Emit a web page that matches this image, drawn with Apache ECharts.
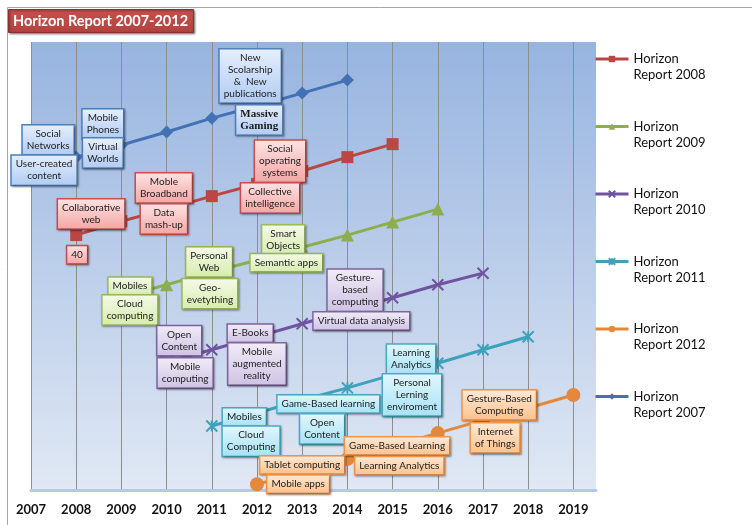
<!DOCTYPE html>
<html>
<head>
<meta charset="utf-8">
<title>Horizon Report 2007-2012</title>
<script src="https://cdn.jsdelivr.net/npm/echarts@6/dist/echarts.min.js"></script>
<style>
  html, body { margin: 0; padding: 0; background: #fff; }
  #chart { width: 752px; height: 525px; }
</style>
</head>
<body>
<div id="chart"></div>
<script>
// x axis ticks
const axisYears = [2007, 2008, 2009, 2010, 2011, 2012, 2013, 2014, 2015, 2016, 2017, 2018, 2019]

// one trend line per report (y is only a relative height, axis hidden)
const years2007 = [2007, 2008, 2009, 2010, 2011, 2012, 2013, 2014]
const values2007 = [71.4, 74.3, 77.0, 79.9, 83.0, 85.7, 88.6, 91.5]
const years2008 = [2008, 2009, 2010, 2011, 2012, 2013, 2014, 2015]
const values2008 = [56.9, 60.0, 62.7, 65.6, 68.3, 71.2, 74.3, 77.2]
const years2009 = [2009, 2010, 2011, 2012, 2013, 2014, 2015, 2016]
const values2009 = [43.1, 45.8, 48.7, 51.3, 54.2, 56.9, 59.8, 62.7]
const years2010 = [2010, 2011, 2012, 2013, 2014, 2015, 2016, 2017]
const values2010 = [28.6, 31.3, 34.2, 37.1, 40.0, 42.9, 45.8, 48.4]
const years2011 = [2011, 2012, 2013, 2014, 2015, 2016, 2017, 2018]
const values2011 = [14.3, 17.2, 20.1, 22.8, 25.7, 28.3, 31.3, 34.2]
const years2012 = [2012, 2013, 2014, 2015, 2016, 2017, 2018, 2019]
const values2012 = [1.3, 4.0, 6.9, 9.8, 12.7, 15.6, 18.3, 21.2]

// callout boxes: [text, year, height]
const notes2007 = [
  ['Social\nNetworks', 2007.38, 78.1],
  ['User-created\ncontent', 2007.29, 71.4],
  ['Mobile\nPhones', 2008.59, 81.7],
  ['Virtual\nWorlds', 2008.59, 75.2],
  ['New\nScolarship\n&  New\npublications', 2011.85, 92.4],
  ['Massive\nGaming', 2012.05, 82.6]
]
const notes2008 = [
  ['Collaborative\nweb', 2008.33, 61.6],
  ['40', 2008.02, 52.5],
  ['Moble\nBroadband', 2009.94, 67.4],
  ['Data\nmash-up', 2009.94, 60.5],
  ['Social\noperating\nsystems', 2012.51, 73.4],
  ['Collective\nintelligence', 2012.29, 65.2]
]
const notes2009 = [
  ['Mobiles', 2009.19, 45.5],
  ['Cloud\ncomputing', 2009.19, 40.2],
  ['Personal\nWeb', 2010.94, 50.9],
  ['Geo-\nevetything', 2010.96, 43.8],
  ['Smart\nObjects', 2012.58, 55.8],
  ['Semantic apps', 2012.65, 50.7]
]
const notes2010 = [
  ['Open\nContent', 2010.28, 33.3],
  ['Mobile\ncomputing', 2010.41, 26.1],
  ['E-Books', 2011.85, 35.0],
  ['Mobile\naugmented\nreality', 2012.0, 28.1],
  ['Gesture-\nbased\ncomputing', 2014.17, 44.6],
  ['Virtual data analysis', 2014.31, 37.7]
]
const notes2011 = [
  ['Mobiles', 2011.72, 16.3],
  ['Cloud\nComputing', 2011.87, 10.9],
  ['Game-Based learning', 2013.58, 19.2],
  ['Open\nContent', 2013.44, 13.6],
  ['Learning\nAnalytics', 2015.41, 29.2],
  ['Personal\nLerning\nenviroment', 2015.43, 21.2]
]
const notes2012 = [
  ['Tablet computing', 2013.0, 5.6],
  ['Mobile apps', 2012.91, 1.3],
  ['Game-Based Learning', 2015.1, 9.8],
  ['Learning Analytics', 2015.15, 5.4],
  ['Gesture-Based\nComputing', 2017.36, 19.0],
  ['Internet\nof Things', 2017.27, 11.6]
]

const xMark = 'path://M0,0L10,10M10,0L0,10'
const starMark = 'path://M0,0L10,10M10,0L0,10M5,0L5,10'

const reports = [
  { name: 'Horizon Report 2007', years: years2007, values: values2007, notes: notes2007,
    color: '#4272b4', symbol: 'diamond', size: 13, border: '#4f81bd', top: '#e6effc', bottom: '#b0cbf2' },
  { name: 'Horizon Report 2008', years: years2008, values: values2008, notes: notes2008,
    color: '#bb4744', symbol: 'rect', size: 12, border: '#c9504d', top: '#fde4e4', bottom: '#f4a5a3' },
  { name: 'Horizon Report 2009', years: years2009, values: values2009, notes: notes2009,
    color: '#8cae4c', symbol: 'triangle', size: 13, border: '#9bbb59', top: '#f5faea', bottom: '#d6ecab' },
  { name: 'Horizon Report 2010', years: years2010, values: values2010, notes: notes2010,
    color: '#7053a0', symbol: xMark, size: 11, border: '#8064a2', top: '#f1ecf7', bottom: '#cec2e4' },
  { name: 'Horizon Report 2011', years: years2011, values: values2011, notes: notes2011,
    color: '#3ea2bc', symbol: starMark, size: 11, border: '#4bacc6', top: '#e2f7fd', bottom: '#a4e2f5' },
  { name: 'Horizon Report 2012', years: years2012, values: values2012, notes: notes2012,
    color: '#e6883c', symbol: 'circle', size: 14, border: '#f79646', top: '#feebd9', bottom: '#fcc08b' }
]

const legendOrder = ['Horizon Report 2008', 'Horizon Report 2009', 'Horizon Report 2010',
  'Horizon Report 2011', 'Horizon Report 2012', 'Horizon Report 2007']

const lineSeries = reports.map((r) => ({
  name: r.name,
  type: 'line',
  z: 2,
  symbol: r.symbol,
  symbolSize: r.size,
  lineStyle: { width: 3, color: r.color },
  itemStyle: r.symbol.startsWith('path://')
    ? { color: r.color, borderColor: r.color, borderWidth: 2 }
    : { color: r.color },
  data: r.years.map((y, i) => [y, r.values[i]])
}))

const noteSeries = reports.map((r) => ({
  name: r.name + ' notes',
  type: 'scatter',
  z: 5,
  symbolSize: 1,
  itemStyle: { color: 'rgba(0,0,0,0)', opacity: 1 },
  silent: true,
  label: {
    show: true,
    position: 'inside',
    formatter: (p) => p.name,
    fontFamily: 'Lato, "Open Sans", sans-serif',
    fontSize: 10,
    lineHeight: 12,
    color: '#222',
    opacity: 1,
    align: 'center',
    padding: [3, 4, 2, 4],
    backgroundColor: new echarts.graphic.LinearGradient(0, 0, 0, 1, [
      { offset: 0, color: r.top },
      { offset: 1, color: r.bottom }
    ]),
    borderColor: r.border,
    borderWidth: 1.5,
    shadowColor: 'rgba(0,0,0,0.35)',
    shadowBlur: 2,
    shadowOffsetX: 1,
    shadowOffsetY: 1
  },
  data: r.notes.map((n) => {
    const item = { name: n[0], value: [n[1], n[2]] }
    if (n[0] === 'Massive\nGaming') {
      item.label = { fontFamily: '"Liberation Serif", serif', fontWeight: 'bold', fontSize: 11, color: '#1a1a1a' }
    }
    return item
  })
}))

const chart = echarts.init(document.getElementById('chart'))

chart.setOption({
  animation: false,
  backgroundColor: '#ffffff',
  title: {
    text: 'Horizon Report 2007-2012',
    left: 8,
    top: 9,
    padding: [3, 6, 3, 5],
    backgroundColor: new echarts.graphic.LinearGradient(0, 0, 0, 1, [
      { offset: 0, color: '#c4524f' },
      { offset: 1, color: '#b3413e' }
    ]),
    borderColor: '#8f2f2d',
    borderWidth: 1,
    shadowColor: 'rgba(0,0,0,0.4)',
    shadowBlur: 2,
    shadowOffsetX: 1,
    shadowOffsetY: 1,
    textStyle: {
      color: '#ffffff',
      fontFamily: 'Lato, "Open Sans", sans-serif',
      fontWeight: 'bold',
      fontSize: 14.5,
      lineHeight: 18
    }
  },
  graphic: [{
    type: 'polyline',
    z: -1,
    shape: { points: [[752, 7.5], [7.5, 7.5], [7.5, 525]] },
    style: { stroke: '#a6a6a6', lineWidth: 1, fill: null }
  }],
  legend: {
    orient: 'vertical',
    left: 594,
    top: 35,
    padding: 0,
    itemWidth: 33,
    itemHeight: 8,
    itemGap: 19.5,
    data: legendOrder,
    lineStyle: { width: 3 },
    formatter: (name) => '\n' + name.replace(' Report', '\nReport'),
    textStyle: {
      fontFamily: 'Lato, "Open Sans", sans-serif',
      fontSize: 13,
      lineHeight: 16,
      color: '#111'
    }
  },
  grid: {
    left: 31,
    right: 156,
    top: 42,
    bottom: 35,
    show: true,
    borderWidth: 0,
    backgroundColor: new echarts.graphic.LinearGradient(0, 0, 0, 1, [
      { offset: 0, color: '#97b4e0' },
      { offset: 1, color: '#e0e8f4' }
    ])
  },
  xAxis: {
    type: 'value',
    min: axisYears[0],
    max: axisYears[axisYears.length - 1] + 0.5,
    interval: 1,
    axisLine: { lineStyle: { color: '#b3c8ec', width: 3 } },
    axisTick: { show: false },
    axisLabel: {
      margin: 13,
      color: '#111',
      fontFamily: 'Lato, "Open Sans", sans-serif',
      fontWeight: 'bold',
      fontSize: 13,
      showMaxLabel: false,
      formatter: (v) => (axisYears.includes(v) ? String(v) : '')
    },
    splitLine: {
      show: true,
      showMaxLine: false,
      lineStyle: { color: '#8e8e8e', width: 1 }
    }
  },
  yAxis: {
    type: 'value',
    min: 0,
    max: 100,
    show: false,
    splitLine: { show: false }
  },
  series: [...lineSeries, ...noteSeries]
})

window.addEventListener('resize', () => chart.resize())
</script>
</body>
</html>
